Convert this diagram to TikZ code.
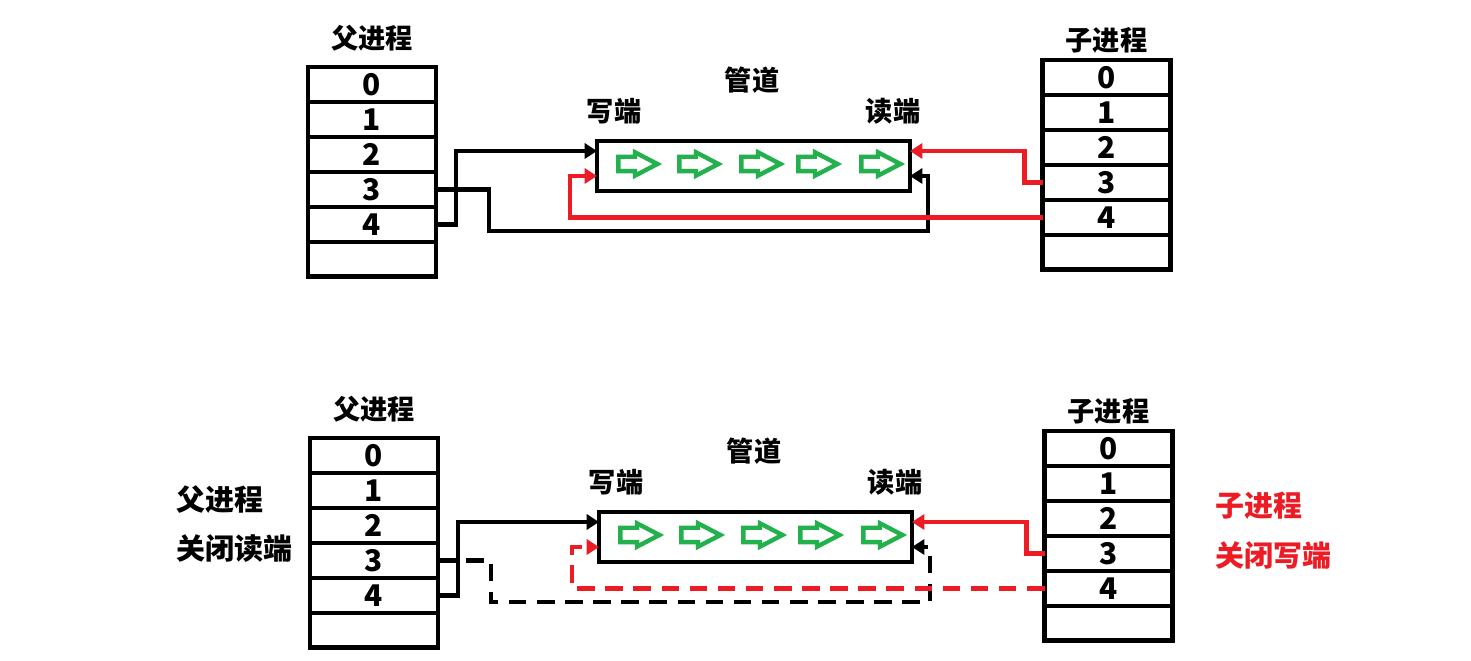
\documentclass[tikz,border=0pt]{standalone}
\usepackage{fontspec}
\setmainfont{Noto Sans CJK SC}
\usetikzlibrary{positioning,arrows.meta,calc,shapes.arrows}
\definecolor{cred}{HTML}{ED1C24}
\definecolor{cgreen}{HTML}{22B14C}

\begin{document}
\begin{tikzpicture}[x=0.02cm,y=-0.02cm,
  font=\bfseries\fontsize{15.5pt}{18pt}\selectfont,
  cell/.style={draw,line width=2.8pt,outer sep=0pt,inner sep=0pt,
               minimum width=2.56cm,minimum height=0.7cm,
               font=\bfseries\fontsize{17pt}{18pt}\selectfont},
  pipe/.style={draw,line width=2.7pt,outer sep=0pt,
               minimum width=6.26cm,minimum height=1cm},
  flow/.style={single arrow,draw=cgreen,line width=2.5pt,inner sep=0.1cm,
               single arrow head extend=0.09cm,minimum height=0.78cm,
               single arrow tip angle=55},
  wire/.style={line width=2.7pt,-{Triangle[length=7pt,width=8.5pt]}},
  rwire/.style={wire,cred},
  cutline/.style={dash pattern=on 10pt off 6pt},
  side/.style={font=\bfseries\fontsize{16.5pt}{20pt}\selectfont,
               anchor=west,inner sep=0pt}]
\useasboundingbox (0,0) rectangle (1471,661);

% upper half: both ends open, lower half: unused ends closed
\foreach \h/\dx/\dy/\cut in {t/0/0/solid,b/2/371/cutline}{
\begin{scope}[shift={(\dx,\dy)}]
  % fd tables
  \node[cell] (\h L0) at (372,84.5) {0};
  \node[cell] (\h R0) at (1106.5,77.5) {0};
  \foreach \i/\t in {1/1,2/2,3/3,4/4,5/}{
    \pgfmathtruncatemacro\j{\i-1}
    \node[cell,below=0pt of \h L\j] (\h L\i) {\t};
    \node[cell,below=0pt of \h R\j] (\h R\i) {\t};
  }
  \node[above=0.2cm of \h L0] (\h ltitle) {父进程};
  \node[above=0.02cm of \h R0] (\h rtitle) {子进程};
  % pipe
  \node[pipe] (\h pipe) at (753.5,166) {};
  \node (\h pname) at (752,80) {管道};
  \node (\h wname) at (614,111) {写端};
  \node (\h rname) at (893,111) {读端};
  \foreach \x in {631,692,754,811,874}
    \node[flow] at (\x,164) {};
  \coordinate (\h wa) at ($(\h pipe.north west)!0.2!(\h pipe.south west)$);
  \coordinate (\h wb) at ($(\h pipe.north west)!0.7!(\h pipe.south west)$);
  \coordinate (\h ra) at ($(\h pipe.north east)!0.2!(\h pipe.south east)$);
  \coordinate (\h rb) at ($(\h pipe.north east)!0.7!(\h pipe.south east)$);
  % connectors
  \draw[wire] (\h L4.east) -- ++(20,0) |- (\h wa);
  \draw[wire,\cut] (\h L3.east) -- ++(53,0)
    |- ($(\h pipe.south east)+(18,40)$) |- (\h rb);
  \draw[rwire] (\h R3.west) -- ++(-18,0) |- (\h ra);
  \draw[rwire,\cut] (\h R4.west) -| ($(\h wb)+(-27,0)$) -- (\h wb);
\end{scope}
}

\node[side] (pclose) at (176,500) {父进程};
\node[side] (pclose2) at (176,549) {关闭读端};
\node[side,text=cred] (cclose) at (1215,506) {子进程};
\node[side,text=cred] (cclose2) at (1215,555) {关闭写端};
\end{tikzpicture}
\end{document}
